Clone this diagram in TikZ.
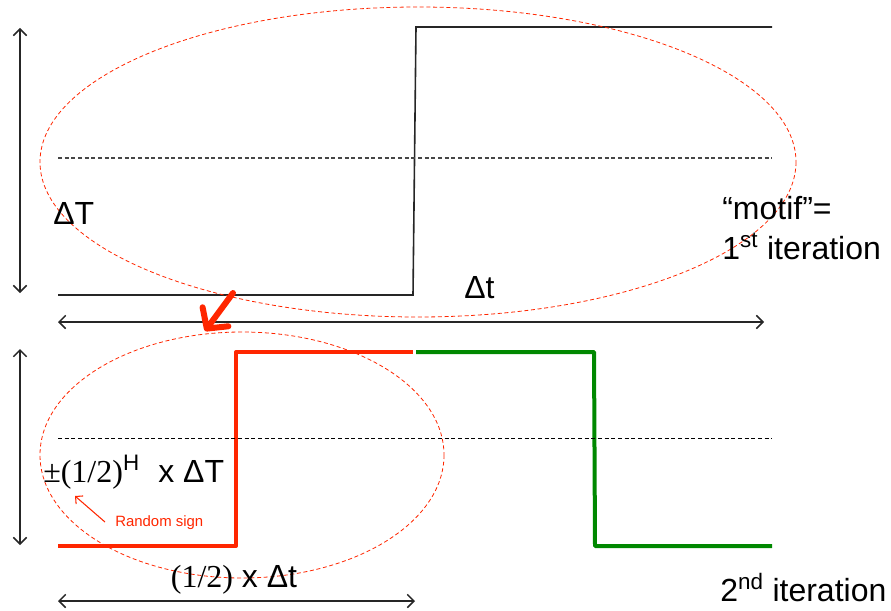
\documentclass[tikz,border=0pt]{standalone}
\usepackage{fontspec}
\setmainfont{Liberation Sans}
\newfontfamily\timesf{Liberation Serif}
\usetikzlibrary{arrows.meta}
\definecolor{myred}{RGB}{255,38,0}
\definecolor{mygreen}{RGB}{0,136,0}
\definecolor{axgray}{RGB}{70,70,70}
\tikzset{
  dimarrow/.style={draw=black!85, line width=1.1pt, {Straight Barb[length=5pt,width=10pt]}-{Straight Barb[length=5pt,width=10pt]}},
  signal/.style={draw=black!85, line width=1.2pt},
  midline/.style={draw=axgray, line width=0.8pt, dash pattern=on 3pt off 2pt},
  midlineb/.style={draw=black, line width=0.7pt, dash pattern=on 3pt off 2pt},
  zoomell/.style={draw=myred, line width=0.6pt, dash pattern=on 3pt off 2pt},
  redstep/.style={draw=myred, line width=3pt, line join=round},
  greenstep/.style={draw=mygreen, line width=3pt, line join=round},
  big/.style={font=\fontsize{24}{28}\selectfont, inner sep=0pt},
  small/.style={font=\fontsize{11.2}{13}\selectfont, inner sep=0pt, text=myred},
}
\begin{document}
\begin{tikzpicture}[x=0.75pt,y=-0.75pt]
\useasboundingbox (0,0) rectangle (891,610);
% ---------- top panel ----------
\coordinate (tA) at (58,295);
\coordinate (tB) at (413,295);
\coordinate (tC) at (416,27);
\coordinate (tD) at (772,27);
\draw[signal] (tA) -- (tB) -- (tC) -- (tD);
\coordinate (tm1) at (58,158);
\coordinate (tm2) at (772,158);
\draw[midline] (tm1) -- (tm2);
\coordinate (tv1) at (20,28);
\coordinate (tv2) at (20,293);
\draw[dimarrow] (tv1) -- (tv2);
\coordinate (th1) at (58,322);
\coordinate (th2) at (764,322);
\draw[dimarrow] (th1) -- (th2);
\draw[zoomell] (418,162) ellipse [x radius=378, y radius=155];
\node[big, anchor=west] (dT) at (53,213) {ΔT};
\node[big, anchor=west] (dt) at (464,288) {Δt};
\node[big, anchor=west, align=left] (motif) at (722,228) {“motif”=\\[2pt]1\textsuperscript{st} iteration};
% red transfer arrow
\coordinate (ra1) at (233,293);
\coordinate (ra2) at (205,331);
\draw[draw=myred, line width=4.5pt, line cap=round, -{Straight Barb[length=11pt,width=24pt,round]}] (ra1) -- (ra2);
% ---------- bottom panel ----------
\coordinate (bA) at (58,546);
\coordinate (bB) at (236,546);
\coordinate (bC) at (236,352);
\coordinate (bD) at (413,352);
\draw[redstep] (bA) -- (bB) -- (bC) -- (bD);
\coordinate (bE) at (416,352);
\coordinate (bF) at (594,352);
\coordinate (bG) at (595,546);
\coordinate (bH) at (772,546);
\draw[greenstep] (bE) -- (bF) -- (bG) -- (bH);
\coordinate (bm1) at (58,438);
\coordinate (bm2) at (772,438);
\draw[midlineb] (bm1) -- (bm2);
\coordinate (bv1) at (20,349);
\coordinate (bv2) at (20,545);
\draw[dimarrow] (bv1) -- (bv2);
\coordinate (bh1) at (58,601);
\coordinate (bh2) at (415,601);
\draw[dimarrow] (bh1) -- (bh2);
\draw[zoomell] (242,455) ellipse [x radius=202, y radius=123];
\node[big, anchor=west] (amp) at (43,472) {{\timesf ±(1/2)}\textsuperscript{H}\hspace{0.3em} x ΔT};
\node[big] (half) at (234,580) {{\timesf (1/2)} x Δt};
\node[big, anchor=west] (second) at (720,588) {2\textsuperscript{nd} iteration};
\node[small, anchor=west] (rs) at (115,523) {Random sign};
\coordinate (sa1) at (105,522);
\coordinate (sa2) at (75,496);
\draw[draw=myred, line width=0.8pt, -{Straight Barb[length=4pt,width=8pt]}] (sa1) -- (sa2);
\end{tikzpicture}
\end{document}
